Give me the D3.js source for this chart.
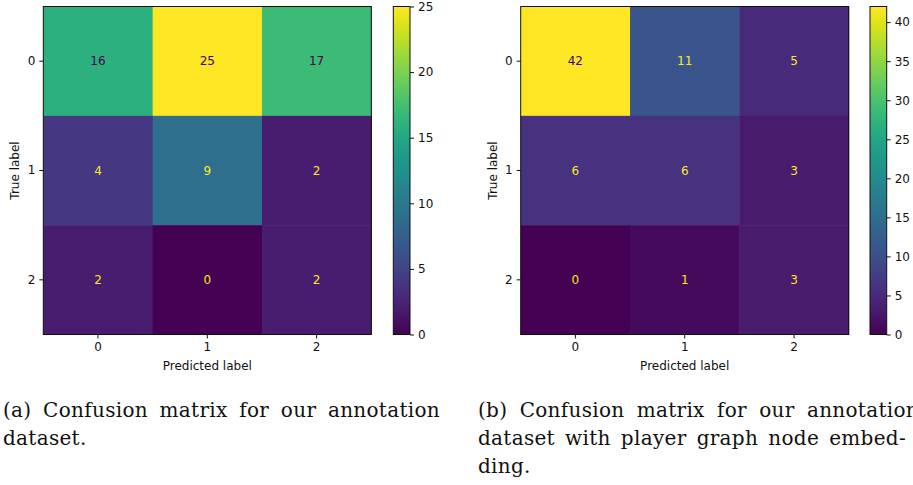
<!DOCTYPE html>
<html lang="en">
<head>
    <meta charset="UTF-8">
    <title>Confusion matrices</title>
    <script src="https://d3js.org/d3.v7.min.js"></script>
    <style>
        body {
            margin: 0;
            background: white;
        }

        svg text.mpl {
            font-family: "DejaVu Sans", sans-serif;
            font-size: 12px;
            fill: #111;
        }

        .tick line {
            stroke: #111;
            stroke-width: 1px;
        }
    </style>
</head>

<body>
<svg id="canvas" width="913" height="485"></svg>

<script>
    // data
    let labels = ['0', '1', '2']
    let matrixA = [
        [16, 25, 17],
        [4, 9, 2],
        [2, 0, 2]
    ]
    let matrixB = [
        [42, 11, 5],
        [6, 6, 3],
        [0, 1, 3]
    ]
    let ticksA = [0, 5, 10, 15, 20, 25]
    let ticksB = [0, 5, 10, 15, 20, 25, 30, 35, 40]
    let captionA = ['(a) Confusion matrix for our annotation', 'dataset.']
    let captionB = ['(b) Confusion matrix for our annotation', 'dataset with player graph node embed-', 'ding.']

    let svg = d3.select('svg')

    function drawMatrix(opts) {
        let g = svg.append('g')
        let matrix = opts.matrix
        let vmax = d3.max(matrix.flat())
        let color = d3.scaleSequential(d3.interpolateViridis).domain([0, vmax])

        let x = d3.scaleBand().domain(labels).range([opts.left, opts.left + opts.size])
        let y = d3.scaleBand().domain(labels).range([opts.top, opts.top + opts.size])

        let cells = []
        matrix.forEach(function (row, i) {
            row.forEach(function (v, j) {
                cells.push({row: labels[i], col: labels[j], value: v})
            })
        })

        g.selectAll('rect.cell')
            .data(cells)
            .enter()
            .append('rect')
            .attr('class', 'cell')
            .attr('x', d => x(d.col))
            .attr('y', d => y(d.row))
            .attr('width', x.bandwidth() + 0.5)
            .attr('height', y.bandwidth() + 0.5)
            .attr('fill', d => color(d.value))

        // text colour like sklearn: dark on bright cells, yellow on dark ones
        g.selectAll('text.val')
            .data(cells)
            .enter()
            .append('text')
            .attr('class', 'mpl val')
            .attr('x', d => x(d.col) + x.bandwidth() / 2)
            .attr('y', d => y(d.row) + y.bandwidth() / 2)
            .attr('dy', '0.36em')
            .attr('text-anchor', 'middle')
            .style('fill', d => d.value >= vmax / 2 ? color(0) : color(vmax))
            .text(d => d.value)

        g.append('rect')
            .attr('x', opts.left)
            .attr('y', opts.top)
            .attr('width', opts.size)
            .attr('height', opts.size)
            .attr('fill', 'none')
            .attr('stroke', '#111')
            .attr('stroke-width', 1)

        let xAxis = g.append('g')
            .attr('transform', 'translate(0,' + (opts.top + opts.size) + ')')
            .call(d3.axisBottom(x).tickSize(4).tickPadding(4))
        let yAxis = g.append('g')
            .attr('transform', 'translate(' + opts.left + ',0)')
            .call(d3.axisLeft(y).tickSize(4).tickPadding(4))
        ;[xAxis, yAxis].forEach(function (a) {
            a.select('.domain').remove()
            a.selectAll('text').attr('class', 'mpl')
            a.attr('font-size', null).attr('font-family', null)
        })

        g.append('text')
            .attr('class', 'mpl')
            .attr('x', opts.left + opts.size / 2)
            .attr('y', opts.top + opts.size + 35)
            .attr('text-anchor', 'middle')
            .text('Predicted label')

        g.append('text')
            .attr('class', 'mpl')
            .attr('transform', 'translate(' + opts.ylabelX + ',' + (opts.top + opts.size / 2) + ') rotate(-90)')
            .attr('text-anchor', 'middle')
            .text('True label')

        // colorbar
        let gradId = 'grad' + opts.id
        let grad = svg.append('defs').append('linearGradient')
            .attr('id', gradId)
            .attr('x1', 0).attr('y1', 1).attr('x2', 0).attr('y2', 0)
        d3.range(0, 1.0001, 0.05).forEach(function (t) {
            grad.append('stop')
                .attr('offset', t)
                .attr('stop-color', d3.interpolateViridis(t))
        })
        g.append('rect')
            .attr('x', opts.cbLeft)
            .attr('y', opts.top)
            .attr('width', opts.cbWidth)
            .attr('height', opts.size)
            .attr('fill', 'url(#' + gradId + ')')
            .attr('stroke', '#111')
            .attr('stroke-width', 1)

        let cb = d3.scaleLinear().domain([0, vmax]).range([opts.top + opts.size, opts.top])
        let cbAxis = g.append('g')
            .attr('transform', 'translate(' + (opts.cbLeft + opts.cbWidth) + ',0)')
            .call(d3.axisRight(cb).tickValues(opts.ticks).tickSize(4).tickPadding(4))
        cbAxis.select('.domain').remove()
        cbAxis.attr('font-size', null).attr('font-family', null)
        cbAxis.selectAll('text').attr('class', 'mpl')
    }

    drawMatrix({id: 'a', matrix: matrixA, ticks: ticksA, left: 43.3, top: 6.5, size: 328,
        cbLeft: 393.3, cbWidth: 16.7, ylabelX: 19})
    drawMatrix({id: 'b', matrix: matrixB, ticks: ticksB, left: 520.7, top: 6.5, size: 328,
        cbLeft: 870, cbWidth: 16.7, ylabelX: 496.5})

    // LaTeX-like caption: justified lines get stretched word gaps
    function drawCaption(lines, x, widths) {
        let letterSp = 0.3
        svg.selectAll(null)
            .data(lines)
            .enter()
            .append('text')
            .attr('font-family', '"DejaVu Serif", serif')
            .attr('font-size', 20)
            .attr('fill', '#111')
            .attr('x', x)
            .attr('y', (d, i) => 416.5 + i * 28.3)
            .attr('letter-spacing', letterSp)
            .text(d => d)
            .each(function (d, i) {
                if (widths[i] == null) return
                let natural = this.getComputedTextLength()
                let spaces = d.split(' ').length - 1
                let extra = (widths[i] - natural) / spaces
                d3.select(this).attr('word-spacing', Math.max(0, extra))
            })
    }

    drawCaption(captionA, 3, [437, null])
    drawCaption(captionB, 478, [441, 428, null])
</script>
</body>
</html>
